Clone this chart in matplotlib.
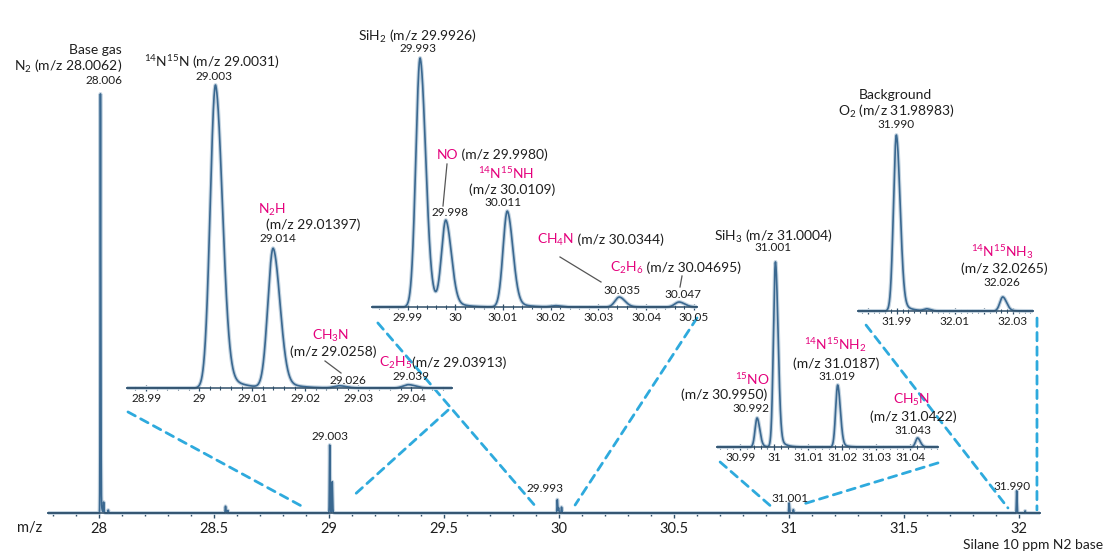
import numpy as np
import matplotlib.pyplot as plt
from matplotlib.patches import ConnectionPatch
from matplotlib.lines import Line2D
from matplotlib.ticker import MultipleLocator, FuncFormatter

plt.rcParams['font.family'] = ['Lato', 'DejaVu Sans']
plt.rcParams['mathtext.fontset'] = 'custom'
plt.rcParams['mathtext.rm'] = 'Lato'
plt.rcParams['mathtext.it'] = 'Lato'
plt.rcParams['mathtext.default'] = 'rm'

# peak lists: centre m/z, intensity (% of tallest peak in each panel)
main_mz = [28.0062, 28.02, 28.04, 28.55, 28.56, 29.0031, 29.014, 29.9926, 29.998,
           30.0109, 31.0004, 31.0187, 31.98983, 32.0265]
main_int = [100, 2.5, 0.7, 1.6, 0.6, 16.2, 7.4, 3.2, 1.2, 1.4, 2.4, 0.8, 5.3, 0.5]

ins1_mz = [29.0031, 29.01397, 29.0265, 29.0395]
ins1_int = [100, 46, 0.7, 1.1]

ins2_mz = [29.9926, 29.998, 30.0109, 30.021, 30.0344, 30.04695]
ins2_int = [100, 34, 38.5, 0.5, 4, 2]

ins3_mz = [30.995, 31.0004, 31.0187, 31.0422]
ins3_int = [15.7, 100, 33.5, 4.9]

ins4_mz = [31.98983, 32.0003, 32.0265]
ins4_int = [100, 1.1, 8]

W, H = 1108, 554
LINE = '#3a6890'
HALO = '#c3d3e0'
CYAN = '#2eaadd'
MAG = '#e4007c'
INK = '#1e1e1e'
NAME = 10
VAL = 8.5

fig = plt.figure(figsize=(W / 100, H / 100), dpi=100)


def box(x0, x1, ybase, ytop):
    return [x0 / W, 1 - ybase / H, (x1 - x0) / W, (ybase - ytop) / H]


def profile(x, mz, inten, w):
    y = np.zeros_like(x)
    for c, h in zip(mz, inten):
        d = (x - c) / w
        left = np.exp(-0.5 * d ** 2)
        right = 0.9 * np.exp(-0.5 * (d / 1.3) ** 2) + 0.1 * np.exp(-np.clip(d, 0, None) / 2.5)
        y += h * np.where(d < 0, left, right)
    return y


def panel(rect, xlim, mz, inten, w, major, minor, fmt, size=8.5, main=False):
    ax = fig.add_axes(rect)
    ax.patch.set_visible(False)
    x = np.linspace(xlim[0], xlim[1], 20000)
    y = profile(x, mz, inten, w)
    ax.plot(x, y, color=HALO, lw=2.8, clip_on=False, solid_capstyle='butt')
    ax.plot(x, y, color=LINE, lw=1.2, clip_on=False)
    ax.set_xlim(*xlim)
    ax.set_ylim(0, 100)
    for s in ['left', 'right', 'top']:
        ax.spines[s].set_visible(False)
    ax.spines['bottom'].set_color('#2f4e68')
    ax.spines['bottom'].set_linewidth(1.1)
    ax.set_yticks([])
    ax.xaxis.set_major_locator(MultipleLocator(major))
    ax.xaxis.set_minor_locator(MultipleLocator(minor))
    ax.xaxis.set_major_formatter(FuncFormatter(fmt))
    if main:
        ax.tick_params(axis='x', which='major', direction='out', length=3.5, width=1,
                       color='#2f4e68', labelsize=size, pad=3, labelcolor=INK)
        ax.tick_params(axis='x', which='minor', direction='out', length=2, width=1,
                       color='#2f4e68')
    else:
        ax.tick_params(axis='x', which='major', direction='inout', length=4, width=0.9,
                       color='#2f4e68', labelsize=size, pad=1.5, labelcolor=INK)
        ax.tick_params(axis='x', which='minor', direction='inout', length=2.5, width=0.8,
                       color='#2f4e68')
    return ax


def g(v, p):
    return f'{v:g}'


def odd_only(v, p):
    return f'{v:g}' if round(v * 100) % 2 == 1 else ''


ax = panel(box(48, 1040, 513, 93), (27.7783, 32.0913), main_mz, main_int, 0.0012,
           0.5, 0.1, g, size=10.5, main=True)
ax1 = panel(box(127, 452, 388, 85), (28.9864, 29.0477), ins1_mz, ins1_int, 0.0010,
            0.01, 0.002, g)
ax2 = panel(box(372, 697, 307, 58), (29.9825, 30.0507), ins2_mz, ins2_int, 0.0009,
            0.01, 0.002, g)
ax3 = panel(box(717, 938, 447, 262), (30.9832, 31.0482), ins3_mz, ins3_int, 0.0006,
            0.01, 0.002, g)
ax4 = panel(box(858, 1033, 311, 135), (31.9766, 32.0369), ins4_mz, ins4_int, 0.0010,
            0.01, 0.002, odd_only)

# zoom connectors (inset corner -> m/z window on main axis)
links = [(ax1, (0.003, -0.079), (28.896, 1.2)), (ax1, (0.988, -0.073), (29.10, 3.8)),
         (ax2, (0.018, -0.064), (29.904, 1.2)), (ax2, (1.0, -0.044), (30.07, 1.9)),
         (ax3, (0.014, -0.081), (30.93, 1.2)), (ax3, (1.0, -0.086), (31.048, 1.9)),
         (ax4, (0.046, -0.08), (31.952, 1.2)), (ax4, (1.023, -0.04), (32.078, 0.7))]
for a, pa, pb in links:
    cp = ConnectionPatch(xyA=pa, coordsA=a.transAxes, xyB=pb, coordsB=ax.transData,
                         color=CYAN, lw=2, linestyle=(0, (3, 2.2)), zorder=0)
    fig.add_artist(cp)


def t(x, y, s, size=NAME, color=INK, ha='center'):
    fig.text(x / W, 1 - y / H, s, fontsize=size, color=color, ha=ha, va='center')


def lead(x0, y0, x1, y1):
    fig.add_artist(Line2D([x0 / W, x1 / W], [1 - y0 / H, 1 - y1 / H],
                          transform=fig.transFigure, color='#555555', lw=0.9))


t(122, 50, 'Base gas', ha='right')
t(122, 66, 'N$_2$ (m/z 28.0062)', ha='right')
t(122, 80, '28.006', size=VAL, ha='right')
t(212, 62, '$^{14}$N$^{15}$N (m/z 29.0031)')
t(214, 76, '29.003', size=VAL)
t(418, 36, 'SiH$_2$ (m/z 29.9926)')
t(418, 49, '29.993', size=VAL)

t(458, 155, 'NO', color=MAG, ha='right')
t(458, 155, ' (m/z 29.9980)', ha='left')
lead(447, 164, 443, 206)
t(450, 213, '29.998', size=VAL)
t(506, 173, '$^{14}$N$^{15}$NH', color=MAG)
t(512, 190, '(m/z 30.0109)')
t(503, 203, '30.011', size=VAL)

t(272, 210, 'N$_2$H', color=MAG)
t(313, 225, '(m/z 29.01397)')
t(278, 238, '29.014', size=VAL)
t(331, 336, 'CH$_3$N', color=MAG)
t(333, 352, '(m/z 29.0258)')
lead(325, 361, 341, 373)
t(348, 380, '29.026', size=VAL)
t(412, 363, 'C$_2$H$_5$', color=MAG, ha='right')
t(412, 363, '(m/z 29.03913)', ha='left')
t(411, 377, '29.039', size=VAL)

t(574, 240, 'CH$_4$N', color=MAG, ha='right')
t(574, 240, ' (m/z 30.0344)', ha='left')
lead(560, 257, 601, 282)
t(622, 290, '30.035', size=VAL)
t(643, 268, 'C$_2$H$_6$', color=MAG, ha='right')
t(643, 268, ' (m/z 30.04695)', ha='left')
lead(682, 276, 680, 287)
t(683, 295, '30.047', size=VAL)

t(774, 236, 'SiH$_3$ (m/z 31.0004)')
t(773, 248, '31.001', size=VAL)
t(895, 95, 'Background')
t(896, 111, 'O$_2$ (m/z 31.98983)')
t(896, 124, '31.990', size=VAL)
t(1002, 252, '$^{14}$N$^{15}$NH$_3$', color=MAG)
t(1004, 269, '(m/z 32.0265)')
t(1002, 282, '32.026', size=VAL)

t(835, 345, '$^{14}$N$^{15}$NH$_2$', color=MAG)
t(836, 364, '(m/z 31.0187)')
t(837, 377, '31.019', size=VAL)
t(752, 379, '$^{15}$NO', color=MAG)
t(767, 395, '(m/z 30.9950)', ha='right')
t(751, 408, '30.992', size=VAL)
t(912, 400, 'CH$_5$N', color=MAG)
t(913, 417, '(m/z 31.0422)')
t(913, 430, '31.043', size=VAL)

t(330, 436, '29.003', size=VAL)
t(545, 488, '29.993', size=VAL)
t(790, 498, '31.001', size=VAL)
t(1012, 486, '31.990', size=VAL)

t(30, 528, 'm/z', size=10.5)
t(1103, 545, 'Silane 10 ppm N2 base', size=10, ha='right')

fig.savefig('out.png', dpi=100)
